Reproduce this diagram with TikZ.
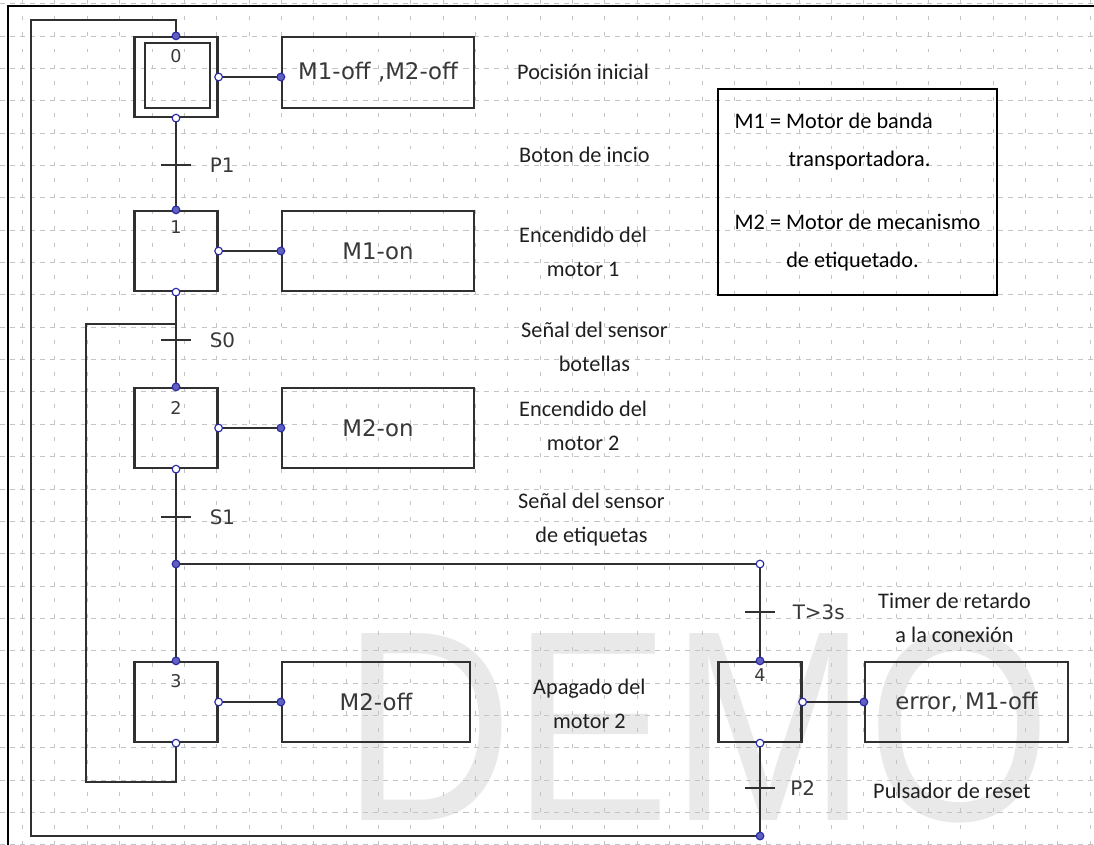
\documentclass[tikz,border=0pt]{standalone}
\usepackage{fontspec}
\setmainfont{Carlito}
\newfontfamily\grafcetfont{DejaVu Sans}
\newfontfamily\wmfont{Liberation Sans}
\usetikzlibrary{positioning,calc}
\definecolor{gcline}{HTML}{303030}
\definecolor{gcgrid}{HTML}{C4C4C4}
\definecolor{gcport}{HTML}{2B2BA8}
\definecolor{gcmark}{HTML}{E9E9E9}
\definecolor{gctext}{HTML}{383838}
\tikzset{
  wire/.style    ={draw=gcline, line width=1.9pt},
  stepbox/.style ={rectangle, draw=gcline, line width=1.9pt,
                   minimum width=2.49cm, minimum height=2.4cm, inner sep=0pt},
  actbox/.style  ={rectangle, draw=gcline, line width=1.9pt, text=gctext,
                   font=\grafcetfont\fontsize{19.5}{22}\selectfont,
                   minimum width=5.76cm, minimum height=2.4cm, inner sep=0pt},
  stepnum/.style ={font=\grafcetfont\fontsize{15}{17}\selectfont, text=gctext, inner sep=0pt},
  trans/.style   ={minimum width=0.9cm, minimum height=0pt, inner sep=0pt},
  tlbl/.style    ={font=\grafcetfont\fontsize{17}{20}\selectfont, text=gctext, inner sep=0pt},
  desc/.style    ={font=\fontsize{19}{29}\selectfont, text=black!88, align=center,
                   inner sep=0pt, anchor=base west},
  port/.style    ={circle, draw=gcport, fill=gcport!75, line width=1pt,
                   inner sep=0pt, minimum size=2.3mm},
  portw/.style   ={port, fill=white},
  legbox/.style  ={rectangle, draw=black, line width=1.9pt, align=left,
                   font=\fontsize{19}{32.4}\selectfont,
                   minimum width=8.37cm, minimum height=6.18cm}
}

\begin{document}
\begin{tikzpicture}[x=0.03cm, y=-0.03cm]
  \useasboundingbox (0,0) rectangle (1094,845);
  \node[font=\wmfont\fontsize{232}{232}\selectfont, text=gcmark, anchor=base west,
        inner sep=0pt, xscale=0.87] (wm) at (342,820) {DEMO};
  % background grid
  \foreach \gx in {0,...,33}
    \draw[gcgrid, line width=0.6pt, dash pattern=on 3.4pt off 10.4pt]
      (22.5+32.35*\gx,0) -- (22.5+32.35*\gx,845);
  \foreach \gy in {0,...,26}
    \draw[gcgrid, line width=0.6pt, dash pattern=on 4.3pt off 4.3pt]
      (0,3.6+32.35*\gy) -- (1094,3.6+32.35*\gy);
  \draw[black, line width=1.6pt] (8,845) -- (8,6) -- (1094,6);

  % steps
  \node[stepbox] (s0) at (176,77) {};
  \node[stepbox, minimum width=1.95cm, minimum height=1.95cm] (s0in) at (177.5,75.5) {};
  \node[stepbox] (s1) at (176,251) {};
  \node[stepbox] (s2) at (176,428) {};
  \node[stepbox] (s3) at (176,702) {};
  \node[stepbox] (s4) at (760,702) {};
  \foreach \s/\n/\d in {s0/0/3.9mm,s1/1/3.3mm,s2/2/4.2mm,s3/3/3.9mm,s4/4/2.4mm}
    \node[stepnum, below=\d of \s.north] (n\s) {\n};

  % actions
  \node[actbox, minimum height=2.13cm] (a0) at (378,72.5) {M1-off ,M2-off};
  \node[actbox] (a1) at (378,251) {M1-on};
  \node[actbox] (a2) at (378,428) {M2-on};
  \node[actbox, minimum width=5.64cm] (a3) at (376,702) {M2-off};
  \node[actbox, minimum width=6.09cm] (a4) at (966.5,702) {error, M1-off};
  \foreach \s/\a in {s0/a0,s1/a1,s2/a2,s3/a3,s4/a4}
    \draw[wire] (\s.east) -- (\s.east -| \a.west);

  % transitions
  \node[trans] (t1) at (176,165) {};
  \node[trans] (t2) at (176,340) {};
  \node[trans] (t3) at (176,517) {};
  \node[trans] (t4) at (760,612) {};
  \node[trans] (t5) at (760,788) {};
  \foreach \t in {t1,t2,t3,t4,t5}
    \draw[wire] (\t.west) -- (\t.east);
  \node[tlbl, right=5.5mm of t1] (l1) {P1};
  \node[tlbl, right=5.5mm of t2] (l2) {S0};
  \node[tlbl, right=5.5mm of t3] (l3) {S1};
  \node[tlbl, right=5.2mm of t4] (l4) {T>3s};
  \node[tlbl, right=4.5mm of t5] (l5) {P2};

  % links
  \coordinate (div)   at (176,564);
  \coordinate (divr)  at (760,564);
  \coordinate (back)  at (760,836);
  \coordinate (loopA) at (31,20);
  \coordinate (loopB) at (86,782);
  \coordinate (join)  at (176,324);
  \draw[wire] (s0.south) -- (s1.north);
  \draw[wire] (s1.south) -- (s2.north);
  \draw[wire] (s2.south) -- (s3.north);
  \draw[wire] (div) -- (divr) -- (s4.north);
  \draw[wire] (s4.south) -- (back) -| (loopA) -| (s0.north);
  \draw[wire] (s3.south) |- (loopB) |- (join);

  % ports
  \foreach \s/\a in {s0/a0,s1/a1,s2/a2,s3/a3,s4/a4}{
    \node[port]  (\s-in)  at (\s.north) {};
    \node[portw] (\s-out) at (\s.south) {};
    \node[portw] (\s-act) at (\s.east) {};
    \node[port]  (\a-in)  at (\s.east -| \a.west) {};
  }
  \node[port] (div-p)  at (div) {};
  \node[portw] (divr-p) at (divr) {};
  \node[port] (back-p) at (back) {};

  % comments
  \node[desc] (d0) at (517,80)  {Pocisión inicial};
  \node[desc] (d1) at (519,163) {Boton de incio};
  \node[desc] (d2) at (519,276) {Encendido del\\motor 1};
  \node[desc] (d3) at (521,371) {Señal del sensor\\botellas};
  \node[desc] (d4) at (519,450) {Encendido del\\motor 2};
  \node[desc] (d5) at (518,542) {Señal del sensor\\de etiquetas};
  \node[desc] (d6) at (533,728) {Apagado del\\motor 2};
  \node[desc] (d7) at (878,642) {Timer de retardo\\a la conexión};
  \node[desc] (d8) at (873,798) {Pulsador de reset};

  \node[legbox] (legend) at (857.5,192)
    {M1 = Motor de banda\\\hspace*{46pt}transportadora.\\[21pt]M2 = Motor de mecanismo\\\hspace*{44pt}de etiquetado.};
\end{tikzpicture}
\end{document}
